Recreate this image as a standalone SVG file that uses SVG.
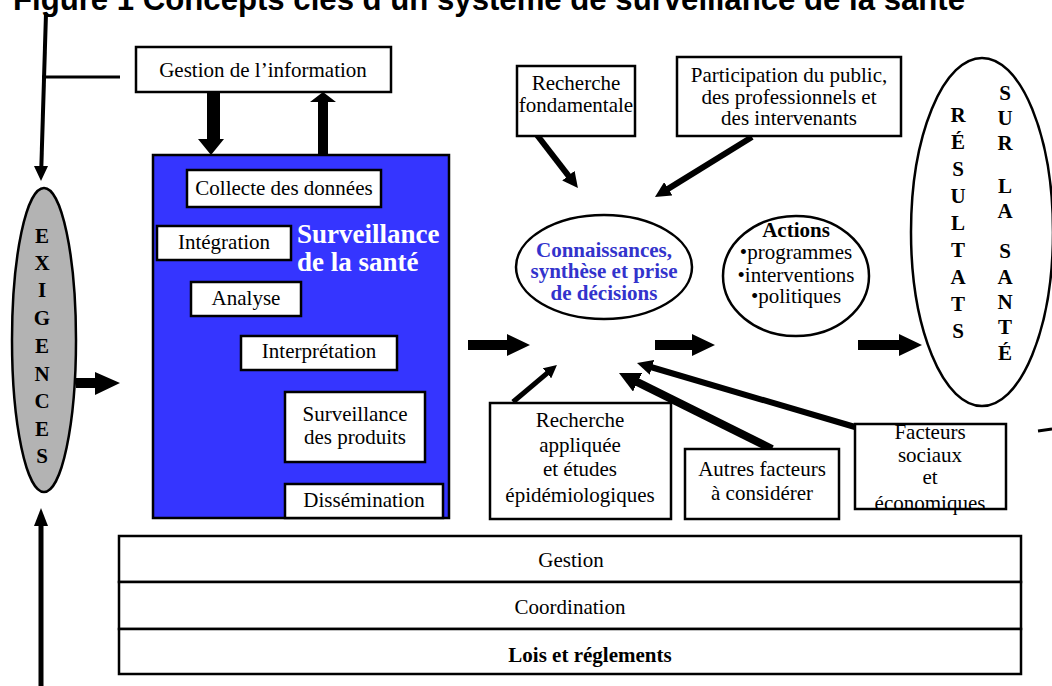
<svg xmlns="http://www.w3.org/2000/svg" width="1052" height="686" viewBox="0 0 1052 686">
  <style>
    .t { font-family: "Liberation Serif", "Times New Roman", serif; font-size: 21px; fill: #000; text-anchor: middle; }
    .b { font-weight: bold; }
    .box { fill: #fff; stroke: #000; stroke-width: 2.5; }
    .ell { fill: #fff; stroke: #000; stroke-width: 2.5; }
    .ln { stroke: #000; fill: none; }
    .blk { fill: #000; }
    .letters { font-family: "Liberation Serif", "Times New Roman", serif; font-weight: bold; font-size: 21px; text-anchor: middle; fill: #000; }
    .head { font-family: "Liberation Serif", "Times New Roman", serif; font-weight: bold; font-size: 27px; fill: #fff; }
  </style>
  <defs>
    <marker id="ah" markerUnits="strokeWidth" viewBox="0 0 10 10" markerWidth="2.6" markerHeight="2.6" refX="2" refY="5" orient="auto">
      <path d="M0,0 L10,5 L0,10 z" fill="#000"/>
    </marker>
  </defs>

  <rect width="1052" height="686" fill="#fff"/>

  <!-- title -->
  <text x="13" y="10" font-family="'Liberation Sans', Arial, sans-serif" font-weight="bold" font-size="31" textLength="952" lengthAdjust="spacingAndGlyphs">Figure 1 Concepts clés d’un système de surveillance de la santé</text>

  <!-- connectors -->
  <g id="connectors">
    <!-- left trunk down to EXIGENCES -->
    <line class="ln" x1="46" y1="13" x2="41.3" y2="168" stroke-width="4"/>
    <polygon class="blk" points="34,166 48,166 41,181"/>
    <line class="ln" x1="42" y1="77" x2="120" y2="77" stroke-width="3"/>
    <!-- bottom trunk up to EXIGENCES -->
    <line class="ln" x1="41" y1="686" x2="41" y2="524" stroke-width="5"/>
    <polygon class="blk" points="34,526 48,526 41,508"/>
    <!-- Gestion de l'information <-> surveillance block -->
    <polygon class="blk" points="207,92 220,92 220,139 224,139 211,155 198,139 207,139"/>
    <polygon class="blk" points="318,155 328,155 328,102 336,102 323,92 310,102 318,102"/>
    <!-- EXIGENCES -> surveillance -->
    <polygon class="blk" points="76,378 95,378 95,372 120,383 95,395 95,388 76,388"/>
    <!-- main flow arrows -->
    <polygon class="blk" points="468,340 507,340 507,334 530,345 507,356 507,350 468,350"/>
    <polygon class="blk" points="655,340 692,340 692,334 715,345 692,356 692,350 655,350"/>
    <polygon class="blk" points="858,340 899,340 899,334 922,345 899,356 899,350 858,350"/>
    <!-- contributing factors -->
    <line class="ln" x1="537" y1="135" x2="570.3" y2="178.1" stroke-width="6" marker-end="url(#ah)"/>
    <line class="ln" x1="752" y1="137" x2="665.6" y2="190.4" stroke-width="6" marker-end="url(#ah)"/>
    <line class="ln" x1="513" y1="402" x2="549" y2="371.7" stroke-width="5" marker-end="url(#ah)"/>
    <line class="ln" x1="772" y1="449" x2="633.9" y2="380.4" stroke-width="8" marker-end="url(#ah)"/>
    <line class="ln" x1="855" y1="427" x2="649" y2="366.5" stroke-width="6" marker-end="url(#ah)"/>
    <line class="ln" x1="1038" y1="431" x2="1052" y2="429" stroke-width="3"/>
  </g>

  <!-- EXIGENCES -->
  <g id="exigences">
    <ellipse cx="44" cy="340" rx="32" ry="152" fill="#b3b3b3" stroke="#000" stroke-width="2.5"/>
    <text class="letters">
      <tspan x="42" y="243">E</tspan><tspan x="42" y="270">X</tspan><tspan x="42" y="297">I</tspan><tspan x="42" y="325">G</tspan><tspan x="42" y="353">E</tspan><tspan x="42" y="381">N</tspan><tspan x="42" y="408">C</tspan><tspan x="42" y="436">E</tspan><tspan x="42" y="463">S</tspan>
    </text>
  </g>

  <!-- Gestion de l'information -->
  <g id="gestion-info">
    <rect class="box" x="136" y="47" width="255" height="45"/>
    <text class="t" x="263" y="77" font-size="20">Gestion de l’information</text>
  </g>

  <!-- Surveillance de la santé block -->
  <g id="surveillance">
    <rect x="153" y="155" width="296" height="363" fill="#3535ff" stroke="#000" stroke-width="2.5"/>
    <text class="head" x="297" y="243">Surveillance</text>
    <text class="head" x="297" y="271">de la santé</text>
  </g>
  <g id="collecte">
    <rect class="box" x="187" y="170" width="194" height="37"/>
    <text class="t" x="284" y="195" font-size="22">Collecte des données</text>
  </g>
  <g id="integration">
    <rect class="box" x="157" y="226" width="134" height="34"/>
    <text class="t" x="224" y="249">Intégration</text>
  </g>
  <g id="analyse">
    <rect class="box" x="191" y="282" width="110" height="34"/>
    <text class="t" x="246" y="305">Analyse</text>
  </g>
  <g id="interpretation">
    <rect class="box" x="241" y="336" width="156" height="34"/>
    <text class="t" x="319" y="358">Interprétation</text>
  </g>
  <g id="surveillance-produits">
    <rect class="box" x="285" y="392" width="140" height="70"/>
    <text class="t" x="355" y="421">Surveillance</text>
    <text class="t" x="355" y="444">des produits</text>
  </g>
  <g id="dissemination">
    <rect class="box" x="285" y="484" width="158" height="34"/>
    <text class="t" x="364" y="507">Dissémination</text>
  </g>

  <!-- knowledge and decision -->
  <g id="recherche-fondamentale">
    <rect class="box" x="517" y="66" width="118" height="70"/>
    <text class="t" x="576" y="90" font-size="20">Recherche</text>
    <text class="t" x="576" y="112" font-size="20">fondamentale</text>
  </g>
  <g id="participation">
    <rect class="box" x="677" y="57" width="224" height="79"/>
    <text class="t" x="789" y="82" font-size="20">Participation du public,</text>
    <text class="t" x="789" y="104" font-size="20">des professionnels et</text>
    <text class="t" x="789" y="125" font-size="20">des intervenants</text>
  </g>
  <g id="connaissances">
    <ellipse class="ell" cx="604" cy="267" rx="88" ry="52"/>
    <text class="t b" x="604" y="257" font-size="19" style="fill:#3333cc">Connaissances,</text>
    <text class="t b" x="604" y="278" font-size="19" style="fill:#3333cc">synthèse et prise</text>
    <text class="t b" x="604" y="300" font-size="19" style="fill:#3333cc">de décisions</text>
  </g>
  <g id="actions">
    <ellipse class="ell" cx="796" cy="276" rx="73" ry="60"/>
    <text class="t b" x="796" y="237" font-size="20">Actions</text>
    <text class="t" x="796" y="259" font-size="20">•programmes</text>
    <text class="t" x="796" y="282" font-size="20">•interventions</text>
    <text class="t" x="796" y="303" font-size="20">•politiques</text>
  </g>
  <g id="resultats">
    <ellipse class="ell" cx="982" cy="232" rx="71" ry="174"/>
    <text class="letters">
      <tspan x="958" y="122">R</tspan><tspan x="958" y="149">É</tspan><tspan x="958" y="176">S</tspan><tspan x="958" y="203">U</tspan><tspan x="958" y="230">L</tspan><tspan x="958" y="257">T</tspan><tspan x="958" y="284">A</tspan><tspan x="958" y="311">T</tspan><tspan x="958" y="338">S</tspan>
    </text>
    <text class="letters">
      <tspan x="1005" y="100">S</tspan><tspan x="1005" y="125">U</tspan><tspan x="1005" y="150">R</tspan><tspan x="1005" y="193">L</tspan><tspan x="1005" y="218">A</tspan><tspan x="1005" y="258">S</tspan><tspan x="1005" y="284">A</tspan><tspan x="1005" y="309">N</tspan><tspan x="1005" y="334">T</tspan><tspan x="1005" y="360">É</tspan>
    </text>
  </g>
  <g id="recherche-appliquee">
    <rect class="box" x="490" y="403" width="181" height="116"/>
    <text class="t" x="580" y="427">Recherche</text>
    <text class="t" x="580" y="452">appliquée</text>
    <text class="t" x="580" y="476">et études</text>
    <text class="t" x="580" y="502">épidémiologiques</text>
  </g>
  <g id="autres-facteurs">
    <rect class="box" x="685" y="449" width="154" height="70"/>
    <text class="t" x="762" y="476">Autres facteurs</text>
    <text class="t" x="762" y="500">à considérer</text>
  </g>
  <g id="facteurs-sociaux">
    <rect class="box" x="855" y="424" width="151" height="85"/>
    <text class="t" x="930" y="439">Facteurs</text>
    <text class="t" x="930" y="462">sociaux</text>
    <text class="t" x="930" y="484">et</text>
    <text class="t" x="930" y="510">économiques</text>
  </g>

  <!-- foundation bands -->
  <g id="gestion">
    <rect class="box" x="119" y="536" width="902" height="46"/>
    <text class="t" x="571" y="567" font-size="19">Gestion</text>
  </g>
  <g id="coordination">
    <rect class="box" x="119" y="582" width="902" height="47"/>
    <text class="t" x="570" y="614" font-size="19">Coordination</text>
  </g>
  <g id="lois">
    <rect class="box" x="119" y="629" width="902" height="45"/>
    <text class="t b" x="590" y="662" font-size="18">Lois et réglements</text>
  </g>
</svg>
